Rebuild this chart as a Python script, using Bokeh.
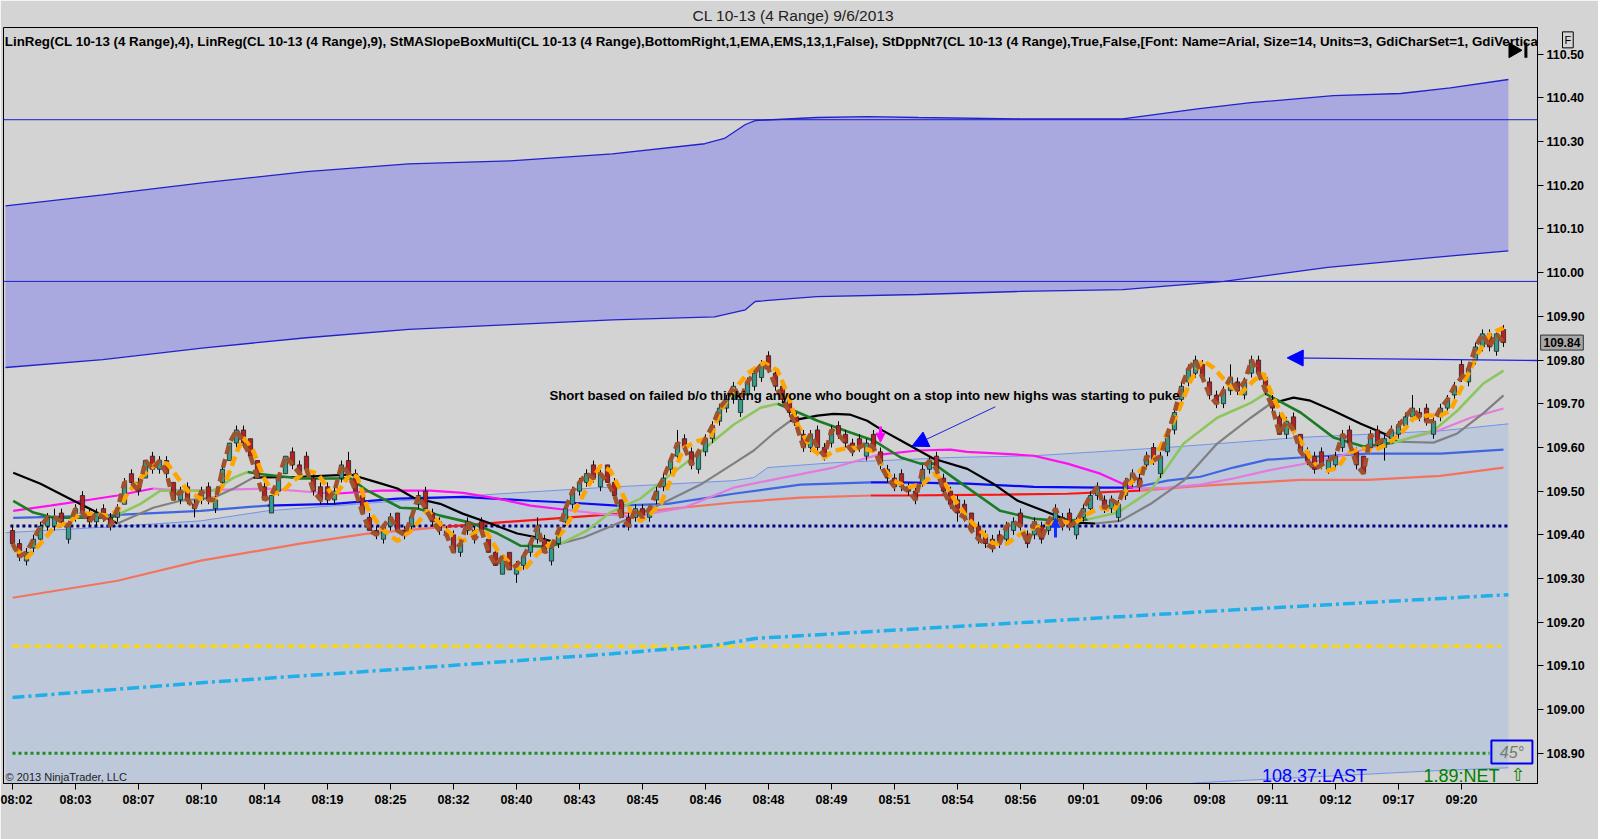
from bokeh.plotting import figure
from bokeh.models import (Range1d, FixedTicker, Span, Label, Arrow, NormalHead,
                          ColumnDataSource, PrintfTickFormatter)
from bokeh.core.properties import value
from bokeh.embed import file_html
from bokeh.resources import INLINE

FONT = "Liberation Sans"

TITLE = "CL 10-13 (4 Range)  9/6/2013"
INDICATORS = ("LinReg(CL 10-13 (4 Range),4), LinReg(CL 10-13 (4 Range),9), "
              "StMASlopeBoxMulti(CL 10-13 (4 Range),BottomRight,1,EMA,EMS,13,1,False), "
              "StDppNt7(CL 10-13 (4 Range),True,False,[Font: Name=Arial, Size=14, Units=3, "
              "GdiCharSet=1, GdiVertica")
NOTE = "Short based on failed b/o thinking anyone who bought on a stop into new highs was starting to puke"

# ---- axes -------------------------------------------------------------
TICK_BARS = [0, 9, 18, 27, 36, 45, 54, 63, 72, 81, 90, 99, 108, 117, 126, 135,
             144, 153, 162, 171, 180, 189, 198, 207]
TIME_LABELS = ["08:02", "08:03", "08:07", "08:10", "08:14", "08:19", "08:25", "08:32",
               "08:40", "08:43", "08:45", "08:46", "08:48", "08:49", "08:51", "08:54",
               "08:56", "09:01", "09:06", "09:08", "09:11", "09:12", "09:17", "09:20"]
PRICE_TICKS = [108.9, 109.0, 109.1, 109.2, 109.3, 109.4, 109.5, 109.6, 109.7, 109.8,
               109.9, 110.0, 110.1, 110.2, 110.3, 110.4, 110.5]

# ---- 4-range bars -----------------------------------------------------
OPEN = [109.41, 109.38, 109.34, 109.37, 109.39, 109.42, 109.42, 109.45, 109.39, 109.44,
        109.49, 109.45, 109.43, 109.46, 109.44, 109.44, 109.47, 109.54, 109.52, 109.53,
        109.58, 109.55, 109.57, 109.52, 109.48, 109.51, 109.47, 109.48, 109.51, 109.46,
        109.52, 109.57, 109.61, 109.64, 109.62, 109.57, 109.51, 109.45, 109.50, 109.54,
        109.59, 109.56, 109.58, 109.53, 109.51, 109.51, 109.48, 109.53, 109.57, 109.54,
        109.49, 109.44, 109.41, 109.39, 109.42, 109.45, 109.41, 109.42, 109.47, 109.50,
        109.45, 109.43, 109.41, 109.40, 109.36, 109.41, 109.41, 109.43, 109.39, 109.36,
        109.31, 109.36, 109.31, 109.33, 109.36, 109.39, 109.39, 109.34, 109.38, 109.43,
        109.47, 109.50, 109.52, 109.56, 109.51, 109.56, 109.52, 109.48, 109.44, 109.44,
        109.46, 109.44, 109.48, 109.51, 109.55, 109.58, 109.62, 109.59, 109.55, 109.59,
        109.62, 109.66, 109.69, 109.71, 109.68, 109.72, 109.74, 109.76, 109.81, 109.77,
        109.74, 109.71, 109.67, 109.63, 109.60, 109.64, 109.60, 109.61, 109.65, 109.63,
        109.61, 109.62, 109.58, 109.63, 109.59, 109.55, 109.53, 109.54, 109.51, 109.50,
        109.52, 109.55, 109.58, 109.53, 109.50, 109.48, 109.47, 109.45, 109.42, 109.40,
        109.39, 109.40, 109.39, 109.41, 109.45, 109.40, 109.40, 109.42, 109.41, 109.43,
        109.44, 109.45, 109.40, 109.44, 109.46, 109.49, 109.48, 109.46, 109.44, 109.49,
        109.52, 109.53, 109.56, 109.60, 109.54, 109.59, 109.64, 109.71, 109.75, 109.77,
        109.79, 109.75, 109.72, 109.70, 109.73, 109.75, 109.72, 109.77, 109.80, 109.76,
        109.71, 109.67, 109.63, 109.67, 109.63, 109.59, 109.58, 109.59, 109.55, 109.56,
        109.60, 109.64, 109.59, 109.58, 109.60, 109.64, 109.60, 109.62, 109.63, 109.65,
        109.67, 109.68, 109.69, 109.63, 109.67, 109.69, 109.72, 109.79, 109.75, 109.80,
        109.83, 109.86, 109.82, 109.87]
CLOSE = [109.38, 109.35, 109.36, 109.39, 109.42, 109.44, 109.44, 109.43, 109.42, 109.46,
         109.45, 109.43, 109.45, 109.44, 109.42, 109.46, 109.52, 109.52, 109.50, 109.57,
         109.55, 109.57, 109.54, 109.48, 109.50, 109.48, 109.46, 109.50, 109.48, 109.48,
         109.55, 109.61, 109.64, 109.61, 109.58, 109.53, 109.48, 109.49, 109.53, 109.58,
         109.56, 109.54, 109.55, 109.50, 109.48, 109.48, 109.50, 109.56, 109.54, 109.50,
         109.45, 109.41, 109.40, 109.42, 109.44, 109.41, 109.40, 109.44, 109.49, 109.46,
         109.43, 109.41, 109.40, 109.36, 109.38, 109.43, 109.39, 109.41, 109.36, 109.33,
         109.35, 109.32, 109.33, 109.35, 109.38, 109.42, 109.36, 109.37, 109.41, 109.46,
         109.50, 109.52, 109.54, 109.53, 109.54, 109.52, 109.49, 109.44, 109.42, 109.46,
         109.44, 109.46, 109.50, 109.53, 109.57, 109.61, 109.60, 109.56, 109.59, 109.62,
         109.65, 109.69, 109.71, 109.74, 109.71, 109.75, 109.77, 109.79, 109.78, 109.74,
         109.71, 109.68, 109.65, 109.60, 109.63, 109.60, 109.58, 109.64, 109.63, 109.61,
         109.59, 109.60, 109.61, 109.60, 109.56, 109.53, 109.51, 109.51, 109.50, 109.48,
         109.55, 109.57, 109.55, 109.50, 109.47, 109.45, 109.44, 109.41, 109.39, 109.38,
         109.37, 109.38, 109.42, 109.43, 109.42, 109.38, 109.43, 109.39, 109.43, 109.46,
         109.42, 109.42, 109.43, 109.46, 109.49, 109.51, 109.46, 109.48, 109.47, 109.52,
         109.54, 109.51, 109.58, 109.57, 109.58, 109.63, 109.68, 109.74, 109.78, 109.80,
         109.76, 109.72, 109.70, 109.73, 109.76, 109.73, 109.75, 109.80, 109.77, 109.73,
         109.69, 109.63, 109.66, 109.64, 109.59, 109.57, 109.55, 109.56, 109.57, 109.58,
         109.63, 109.61, 109.56, 109.54, 109.63, 109.61, 109.62, 109.64, 109.65, 109.67,
         109.69, 109.67, 109.66, 109.66, 109.69, 109.71, 109.74, 109.76, 109.78, 109.83,
         109.86, 109.83, 109.86, 109.84]
HIGH = [109.42, 109.39, 109.37, 109.40, 109.43, 109.45, 109.46, 109.46, 109.43, 109.47,
        109.50, 109.46, 109.46, 109.47, 109.45, 109.47, 109.53, 109.55, 109.53, 109.57,
        109.59, 109.58, 109.58, 109.52, 109.51, 109.52, 109.48, 109.51, 109.52, 109.49,
        109.56, 109.61, 109.65, 109.65, 109.62, 109.57, 109.52, 109.49, 109.54, 109.58,
        109.60, 109.57, 109.59, 109.54, 109.52, 109.52, 109.51, 109.57, 109.59, 109.55,
        109.49, 109.45, 109.42, 109.42, 109.45, 109.45, 109.42, 109.45, 109.50, 109.51,
        109.46, 109.44, 109.42, 109.41, 109.39, 109.44, 109.42, 109.44, 109.40, 109.37,
        109.35, 109.36, 109.34, 109.36, 109.39, 109.44, 109.40, 109.38, 109.42, 109.47,
        109.51, 109.53, 109.55, 109.57, 109.55, 109.56, 109.53, 109.48, 109.45, 109.47,
        109.47, 109.47, 109.51, 109.54, 109.58, 109.64, 109.63, 109.60, 109.59, 109.63,
        109.66, 109.70, 109.72, 109.75, 109.72, 109.76, 109.78, 109.80, 109.82, 109.78,
        109.75, 109.72, 109.68, 109.64, 109.64, 109.65, 109.61, 109.65, 109.66, 109.64,
        109.62, 109.63, 109.62, 109.64, 109.60, 109.56, 109.54, 109.55, 109.52, 109.51,
        109.56, 109.58, 109.59, 109.54, 109.51, 109.49, 109.48, 109.45, 109.43, 109.41,
        109.40, 109.41, 109.43, 109.44, 109.46, 109.41, 109.44, 109.43, 109.44, 109.47,
        109.45, 109.46, 109.44, 109.47, 109.50, 109.52, 109.49, 109.49, 109.48, 109.53,
        109.55, 109.54, 109.59, 109.61, 109.59, 109.64, 109.69, 109.75, 109.79, 109.81,
        109.80, 109.76, 109.73, 109.74, 109.79, 109.76, 109.76, 109.81, 109.81, 109.77,
        109.72, 109.68, 109.67, 109.68, 109.63, 109.60, 109.59, 109.60, 109.58, 109.59,
        109.64, 109.65, 109.60, 109.58, 109.64, 109.65, 109.63, 109.65, 109.66, 109.68,
        109.72, 109.69, 109.70, 109.67, 109.70, 109.72, 109.75, 109.80, 109.79, 109.84,
        109.87, 109.87, 109.87, 109.88]
LOW = [109.37, 109.34, 109.33, 109.36, 109.38, 109.41, 109.41, 109.42, 109.38, 109.43,
       109.45, 109.42, 109.42, 109.43, 109.41, 109.43, 109.47, 109.51, 109.49, 109.53,
       109.54, 109.54, 109.53, 109.48, 109.47, 109.47, 109.44, 109.47, 109.47, 109.45,
       109.51, 109.57, 109.60, 109.60, 109.58, 109.53, 109.48, 109.45, 109.49, 109.54,
       109.55, 109.53, 109.54, 109.49, 109.47, 109.47, 109.47, 109.52, 109.53, 109.50,
       109.45, 109.41, 109.39, 109.38, 109.41, 109.41, 109.39, 109.41, 109.46, 109.46,
       109.42, 109.40, 109.39, 109.36, 109.35, 109.40, 109.38, 109.40, 109.36, 109.33,
       109.31, 109.32, 109.29, 109.32, 109.35, 109.38, 109.36, 109.33, 109.37, 109.42,
       109.46, 109.49, 109.51, 109.52, 109.50, 109.52, 109.49, 109.44, 109.41, 109.43,
       109.43, 109.43, 109.47, 109.50, 109.54, 109.57, 109.59, 109.55, 109.54, 109.58,
       109.61, 109.65, 109.68, 109.70, 109.67, 109.71, 109.73, 109.75, 109.77, 109.73,
       109.70, 109.67, 109.64, 109.59, 109.59, 109.59, 109.57, 109.60, 109.62, 109.60,
       109.58, 109.59, 109.57, 109.59, 109.55, 109.52, 109.50, 109.50, 109.49, 109.47,
       109.51, 109.54, 109.54, 109.49, 109.46, 109.43, 109.43, 109.41, 109.38, 109.37,
       109.36, 109.37, 109.38, 109.40, 109.41, 109.37, 109.39, 109.38, 109.40, 109.42,
       109.41, 109.41, 109.39, 109.43, 109.45, 109.48, 109.45, 109.45, 109.43, 109.48,
       109.51, 109.50, 109.55, 109.56, 109.53, 109.58, 109.63, 109.70, 109.74, 109.76,
       109.75, 109.71, 109.69, 109.69, 109.72, 109.72, 109.71, 109.76, 109.76, 109.72,
       109.68, 109.63, 109.62, 109.63, 109.59, 109.56, 109.54, 109.55, 109.54, 109.55,
       109.59, 109.60, 109.55, 109.54, 109.59, 109.60, 109.57, 109.61, 109.62, 109.64,
       109.66, 109.66, 109.65, 109.62, 109.66, 109.68, 109.71, 109.75, 109.74, 109.79,
       109.82, 109.82, 109.81, 109.83]
LAST_PRICE = 109.84

# ---- LinReg(9) (orange dashed) -----------------------------------------
ORANGE_X = [0.1, 2.1, 4.0, 5.9, 7.9, 9.7, 11.6, 13.6, 15.0, 16.4,
            18.3, 20.7, 22.1, 23.6, 25.0, 26.9, 28.7, 30.7, 32.1, 33.0,
            34.4, 35.9, 37.3, 38.7, 40.1, 42.1, 43.6, 45.0, 45.9, 47.3,
            48.3, 49.3, 50.7, 52.6, 55.0, 56.9, 59.3, 60.7, 62.6, 64.4,
            66.4, 67.9, 69.3, 71.1, 73.0, 75.0, 76.9, 78.7, 80.1, 82.1,
            84.0, 85.4, 86.9, 88.3, 89.7, 91.1, 92.6, 94.4, 95.9, 97.9,
            99.7, 101.1, 103.0, 105.0, 107.3, 109.3, 110.7, 112.1, 114.0, 115.9,
            117.3, 119.3, 121.1, 123.0, 124.4, 125.9, 127.9, 130.1, 131.6, 133.0,
            134.4, 136.4, 138.3, 140.1, 142.1, 144.0, 145.9, 147.9, 149.7, 151.6,
            153.6, 155.4, 157.3, 159.3, 161.1, 163.0, 164.4, 166.4, 168.3, 170.0,
            171.6, 173.6, 175.4, 177.3, 178.7, 180.1, 181.6, 184.0, 185.9, 187.9,
            189.3, 190.7, 192.6, 194.4, 196.4, 198.3, 200.1, 202.1, 204.0, 205.4,
            207.3, 209.3, 211.1, 213.0]
ORANGE_Y = [109.370, 109.348, 109.380, 109.416, 109.428, 109.448, 109.448, 109.444, 109.455, 109.494,
            109.531, 109.565, 109.563, 109.531, 109.501, 109.483, 109.478, 109.531, 109.592, 109.622,
            109.592, 109.531, 109.494, 109.501, 109.524, 109.547, 109.540, 109.508, 109.485, 109.517,
            109.542, 109.531, 109.462, 109.416, 109.386, 109.409, 109.455, 109.432, 109.402, 109.386,
            109.409, 109.402, 109.364, 109.334, 109.318, 109.357, 109.380, 109.409, 109.448, 109.508,
            109.558, 109.547, 109.501, 109.455, 109.432, 109.448, 109.471, 109.540, 109.599, 109.615,
            109.622, 109.684, 109.730, 109.769, 109.794, 109.776, 109.723, 109.654, 109.599, 109.576,
            109.592, 109.599, 109.599, 109.592, 109.553, 109.524, 109.508, 109.517, 109.540, 109.524,
            109.485, 109.439, 109.409, 109.380, 109.380, 109.402, 109.416, 109.425, 109.432, 109.425,
            109.448, 109.462, 109.455, 109.508, 109.547, 109.570, 109.615, 109.677, 109.753, 109.799,
            109.782, 109.746, 109.723, 109.753, 109.769, 109.714, 109.668, 109.615, 109.563, 109.547,
            109.553, 109.586, 109.599, 109.592, 109.608, 109.631, 109.666, 109.673, 109.673, 109.684,
            109.746, 109.814, 109.860, 109.874]

# ---- slope-coloured moving averages (x in bars, y in price) -------------
SLOW_X = [0.1, 4.0, 7.9, 11.6, 15.0, 20.1, 24.0, 28.7, 31.6, 34.4,
          41.1, 48.3, 52.1, 55.0, 57.3, 61.1, 64.4, 68.3, 72.1, 75.0, 78.3,
          81.6, 85.4, 90.1, 93.6, 98.3, 103.0, 105.9, 108.7, 111.1,
          115.0, 117.3, 119.7, 122.1, 124.4, 126.9, 131.6, 136.4, 140.1, 143.6, 147.3, 151.6, 154.7,
          158.3, 162.6, 167.3, 172.1, 176.9, 179.7,
          183.0, 185.4, 188.7, 192.6, 195.9, 197.9,
          203.0, 206.4, 210.1, 213.0]
SLOW_Y = [109.542, 109.517, 109.485, 109.455, 109.426, 109.462, 109.478, 109.485, 109.506, 109.531,
          109.533, 109.538, 109.520, 109.506, 109.485, 109.471, 109.448, 109.426, 109.403, 109.394, 109.380,
          109.394, 109.419, 109.451, 109.478, 109.515, 109.563, 109.593, 109.632, 109.661,
          109.673, 109.677, 109.675, 109.661, 109.638, 109.616, 109.574, 109.551, 109.517, 109.478, 109.455, 109.428, 109.426,
          109.432, 109.471, 109.524, 109.609, 109.668, 109.700,
          109.714, 109.707, 109.684, 109.654, 109.632, 109.613,
          109.611, 109.632, 109.678, 109.719]
SLOW_SEGMENTS = [(0, 4, "#000000"), (4, 9, "#808080"), (9, 20, "#000000"), (20, 29, "#808080"),
                 (29, 42, "#000000"), (42, 48, "#808080"), (48, 54, "#000000"), (54, 58, "#808080")]

FAST_X = [0.1, 3.0, 5.9, 10.1, 14.0, 15.0,
          18.3, 21.1, 25.0, 28.7, 31.6, 33.6,
          35.0, 41.1, 48.3, 50.7, 55.4, 57.9, 61.1, 65.4, 69.3, 72.6, 76.4, 78.3,
          82.1, 85.4, 89.7, 93.6, 98.3, 103.0, 106.9, 109.3,
          110.1, 115.0, 119.7, 123.0, 126.9, 129.7, 131.6, 136.4, 141.1, 145.9, 149.7, 153.6,
          157.9, 162.6, 167.3, 172.1, 176.9, 179.0,
          184.0, 188.7, 193.0, 197.3,
          203.0, 206.4, 210.1, 213.0]
FAST_Y = [109.478, 109.451, 109.439, 109.439, 109.439, 109.446,
          109.471, 109.501, 109.501, 109.501, 109.531, 109.544,
          109.540, 109.529, 109.529, 109.501, 109.462, 109.460, 109.444, 109.428, 109.403, 109.375, 109.373, 109.380,
          109.410, 109.451, 109.483, 109.533, 109.590, 109.652, 109.691, 109.700,
          109.695, 109.661, 109.634, 109.616, 109.577, 109.563, 109.563, 109.508, 109.455, 109.437, 109.432, 109.435,
          109.451, 109.501, 109.609, 109.668, 109.702, 109.723,
          109.680, 109.623, 109.602, 109.611,
          109.638, 109.684, 109.746, 109.776]
FAST_SEGMENTS = [(0, 5, "#1E7B25"), (5, 11, "#8DC65C"), (11, 23, "#1E7B25"), (23, 31, "#8DC65C"),
                 (31, 43, "#1E7B25"), (43, 49, "#8DC65C"), (49, 53, "#1E7B25"), (53, 57, "#8DC65C")]

MID_X = [0.1, 5.4, 10.1, 15.0, 20.1,
         24.4, 29.3, 36.4, 45.9,
         52.6, 59.7, 64.4, 69.3, 74.0, 78.7,
         84.0, 88.7, 95.9, 103.0, 110.1, 117.3, 123.6,
         129.3, 134.0, 136.4, 141.1, 145.9, 150.7, 155.4, 160.1,
         165.0, 169.7, 174.4, 179.3, 184.0, 188.7, 193.6, 198.3, 203.6, 208.3, 213.0]
MID_Y = [109.455, 109.467, 109.478, 109.490, 109.506,
         109.501, 109.503, 109.506, 109.494,
         109.501, 109.501, 109.496, 109.483, 109.467, 109.458,
         109.448, 109.442, 109.462, 109.508, 109.531, 109.554, 109.583,
         109.593, 109.595, 109.590, 109.586, 109.581, 109.563, 109.540, 109.506,
         109.508, 109.515, 109.529, 109.547, 109.561, 109.577, 109.597, 109.616, 109.638, 109.668, 109.689]
MID_SEGMENTS = [(0, 4, "#FF10F0"), (4, 8, "#E27BDC"), (8, 14, "#FF10F0"), (14, 21, "#E27BDC"),
                (21, 29, "#FF10F0"), (29, 40, "#E27BDC")]

BLUE_X = [0.1, 12.6, 26.9, 36.4,
          45.9, 55.0, 64.4, 74.0, 79.3, 86.4,
          93.6, 103.0, 112.6, 122.6,
          126.9, 136.4, 145.9, 155.4, 160.1,
          165.0, 169.7, 174.4, 179.3, 184.0, 193.6, 204.0, 213.0]
BLUE_Y = [109.439, 109.444, 109.455, 109.467,
          109.471, 109.483, 109.487, 109.478, 109.474, 109.467,
          109.471, 109.494, 109.515, 109.520,
          109.520, 109.517, 109.510, 109.508, 109.508,
          109.524, 109.533, 109.554, 109.572, 109.577, 109.586, 109.586, 109.595]
BLUE_SEGMENTS = [(0, 3, "#3F66E0"), (3, 9, "#0A0AF5"), (9, 13, "#3F66E0"), (13, 18, "#0A0AF5"),
                 (18, 26, "#3F66E0")]

RED_X = [0.0, 15.0, 26.9, 41.1, 50.7, 62.1,
         69.3, 78.7, 86.4,
         91.1, 103.0, 112.6, 122.6,
         126.9, 141.1, 150.7, 161.1,
         169.7, 184.0, 193.6, 204.0, 213.0]
RED_Y = [109.256, 109.295, 109.341, 109.380, 109.403, 109.419,
         109.428, 109.439, 109.448,
         109.455, 109.474, 109.485, 109.490,
         109.490, 109.492, 109.494, 109.501,
         109.512, 109.526, 109.526, 109.535, 109.554]
RED_SEGMENTS = [(0, 5, "#F4735E"), (5, 8, "#FF1414"), (8, 12, "#F4735E"), (12, 16, "#FF1414"),
                (16, 21, "#F4735E")]

# ---- envelopes ---------------------------------------------------------
UPBAND_TOP_X = [-1.0, 12.9, 27.4, 42.0, 56.6, 71.1, 85.7, 98.9, 101.7, 104.7, 106.1, 114.9,
                122.1, 129.4, 144.0, 158.6, 169.3, 176.9, 188.7, 198.3, 205.4, 213.7]
UPBAND_TOP_Y = [110.153, 110.178, 110.206, 110.231, 110.249, 110.256, 110.272, 110.295, 110.307,
                110.339, 110.348, 110.355, 110.357, 110.355, 110.352, 110.352, 110.375, 110.389,
                110.405, 110.410, 110.423, 110.442]
UPBAND_BOT_X = [-1.0, 12.9, 27.4, 42.0, 56.6, 71.1, 85.7, 100.3, 104.7, 106.1, 114.9, 129.4,
                144.0, 158.6, 173.1, 187.9, 202.4, 213.7]
UPBAND_BOT_Y = [109.783, 109.801, 109.828, 109.851, 109.870, 109.881, 109.892, 109.899, 109.915,
                109.934, 109.945, 109.950, 109.957, 109.961, 109.980, 110.012, 110.034, 110.050]
LOWBAND_TOP_X = [-1.0, 12.6, 26.9, 36.4, 55.4, 69.7, 84.0, 103.0, 105.9, 107.9, 117.3, 134.0,
                 145.9, 165.0, 184.0, 204.0, 213.7]
LOWBAND_TOP_Y = [109.405, 109.417, 109.432, 109.455, 109.478, 109.494, 109.508, 109.524, 109.531,
                 109.554, 109.565, 109.577, 109.581, 109.600, 109.623, 109.638, 109.654]
LOWBAND_BOT_X = [-1.0, 105.9, 107.9, 169.7, 203.0, 213.7]
LOWBAND_BOT_Y = [108.55, 108.70, 108.74, 108.833, 108.860, 108.867]

CYAN_X = [0.0, 27.4, 56.6, 85.7, 100.3, 106.1, 144.0, 173.1, 213.7]
CYAN_Y = [109.028, 109.062, 109.094, 109.128, 109.147, 109.163, 109.199, 109.227, 109.263]

# ---- horizontal levels -------------------------------------------------
BLUE_LEVELS = [110.35, 109.98]
NAVY_LEVEL = 109.42
YELLOW_LEVEL = 109.145
GREEN_LEVEL = 108.90
NAVY_SPAN_X = [-0.3, 213.7]
YELLOW_SPAN_X = [0.0, 212.6]
GREEN_SPAN_X = [0.0, 211.0]

# ---- annotations (bar, price) ------------------------------------------
NOTE_POS = (76.7, 109.72)
NOTE_ARROW = (140.4, 109.693, 128.5, 109.603)
H_ARROW = (217.9, 109.799, 182.1, 109.805)
PINK_ARROW = (124.0, 109.648, 124.0, 109.612)
BLUE_ARROW = (149.0, 109.394, 149.0, 109.438)

# ------------------------------------------------------------------------
p = figure(width=1598, height=839,
           x_range=Range1d(-1.286, 217.857), y_range=Range1d(108.831, 110.561),
           y_axis_location="right", toolbar_location=None, output_backend="svg",
           min_border_left=3, min_border_right=61, min_border_top=27, min_border_bottom=56,
           background_fill_color="#D3D3D3", border_fill_color="#D4D4D4",
           outline_line_color="black", outline_line_width=1)
p.grid.visible = False

p.title.text = TITLE
p.title.align = "left"
p.title.offset = 689
p.title.vertical_align = "bottom"
p.title.standoff = 7
p.title.text_font = FONT
p.title.text_font_size = "15.5px"
p.title.text_font_style = "normal"
p.title.text_color = "#222222"

for ax in (p.xaxis[0], p.yaxis[0]):
    ax.axis_line_color = "black"
    ax.major_tick_line_color = "black"
    ax.major_tick_in = 0
    ax.major_tick_out = 6
    ax.minor_tick_line_color = None
    ax.major_label_text_font = FONT
    ax.major_label_text_font_style = "bold"
    ax.major_label_text_font_size = "12.5px"
    ax.major_label_text_color = "black"
p.xaxis[0].ticker = FixedTicker(ticks=TICK_BARS)
p.xaxis[0].major_label_overrides = {b: t for b, t in zip(TICK_BARS, TIME_LABELS)}
p.xaxis[0].major_label_standoff = 3
p.yaxis[0].ticker = FixedTicker(ticks=PRICE_TICKS)
p.yaxis[0].formatter = PrintfTickFormatter(format="%.2f")
p.yaxis[0].major_label_standoff = 3

# envelopes
p.patch(LOWBAND_TOP_X + LOWBAND_BOT_X[::-1], LOWBAND_TOP_Y + LOWBAND_BOT_Y[::-1],
        fill_color="#BEC8DB", line_color=None)
p.line(LOWBAND_TOP_X, LOWBAND_TOP_Y, line_color="#7393E6", line_width=1)
p.line(LOWBAND_BOT_X, LOWBAND_BOT_Y, line_color="#7393E6", line_width=1)
p.patch(UPBAND_TOP_X + UPBAND_BOT_X[::-1], UPBAND_TOP_Y + UPBAND_BOT_Y[::-1],
        fill_color="#A9A9DF", line_color=None)
p.line(UPBAND_TOP_X, UPBAND_TOP_Y, line_color="#2222CC", line_width=1.3)
p.line(UPBAND_BOT_X, UPBAND_BOT_Y, line_color="#2222CC", line_width=1.3)

for lvl in BLUE_LEVELS:
    p.add_layout(Span(location=lvl, dimension="width", line_color="#1C1CC8", line_width=1))

p.line(NAVY_SPAN_X, [NAVY_LEVEL, NAVY_LEVEL], line_color="#000080", line_width=3, line_dash="3 3")
p.line(YELLOW_SPAN_X, [YELLOW_LEVEL, YELLOW_LEVEL], line_color="#FFD700", line_width=3, line_dash="7 4")
p.line(GREEN_SPAN_X, [GREEN_LEVEL, GREEN_LEVEL], line_color="#1E8C1E", line_width=3, line_dash="3 3")
p.line(CYAN_X, CYAN_Y, line_color="#1FB0E8", line_width=3.5, line_dash="12 4 3 4")


def draw_segments(xs, ys, segs, width):
    for a, b, color in segs:
        p.line(xs[a:b + 1], ys[a:b + 1], line_color=color, line_width=width)


draw_segments(RED_X, RED_Y, RED_SEGMENTS, 2.2)
draw_segments(BLUE_X, BLUE_Y, BLUE_SEGMENTS, 2.2)
draw_segments(MID_X, MID_Y, MID_SEGMENTS, 2.2)
draw_segments(SLOW_X, SLOW_Y, SLOW_SEGMENTS, 2.2)
draw_segments(FAST_X, FAST_Y, FAST_SEGMENTS, 2.6)

# candles
bars = list(range(len(CLOSE)))
src = ColumnDataSource(dict(
    x=bars, h=HIGH, l=LOW,
    top=[max(o, c) for o, c in zip(OPEN, CLOSE)],
    bot=[min(o, c) for o, c in zip(OPEN, CLOSE)],
    color=["#2F9E8C" if c >= o else "#B82020" for o, c in zip(OPEN, CLOSE)]))
p.segment(x0="x", y0="h", x1="x", y1="l", source=src, line_color="black", line_width=1)
p.vbar(x="x", width=0.6, top="top", bottom="bot", source=src,
       fill_color="color", line_color="#222222", line_width=0.8)

# LinReg lines
p.line(ORANGE_X, ORANGE_Y, line_color="#FFA500", line_width=4.5, line_dash="10 5")
p.line(bars, CLOSE, line_color="#A0522D", line_width=4.5, line_dash="9 5")

# indicator line and note
p.text(x=[-1.1], y=[110.529], text=[INDICATORS], text_font=value(FONT), text_font_style="bold",
       text_font_size="13.35px", text_baseline="middle", text_align="left", text_color="black")
p.text(x=[NOTE_POS[0]], y=[NOTE_POS[1]], text=[NOTE], text_font=value(FONT), text_font_style="bold",
       text_font_size="13.2px", text_baseline="middle", text_align="left", text_color="black")

p.add_layout(Arrow(end=NormalHead(size=16, fill_color="#0000FF", line_color="#0000FF"),
                   x_start=NOTE_ARROW[0], y_start=NOTE_ARROW[1], x_end=NOTE_ARROW[2], y_end=NOTE_ARROW[3],
                   line_color="#2020E0", line_width=1))
p.add_layout(Arrow(end=NormalHead(size=16, fill_color="#0000FF", line_color="#0000FF"),
                   x_start=H_ARROW[0], y_start=H_ARROW[1], x_end=H_ARROW[2], y_end=H_ARROW[3],
                   line_color="#2020E0", line_width=1.3))
p.add_layout(Arrow(end=NormalHead(size=9, fill_color="#FF00FF", line_color="#FF00FF"),
                   x_start=PINK_ARROW[0], y_start=PINK_ARROW[1], x_end=PINK_ARROW[2], y_end=PINK_ARROW[3],
                   line_color="#FF00FF", line_width=3))
p.add_layout(Arrow(end=NormalHead(size=9, fill_color="#1030FF", line_color="#1030FF"),
                   x_start=BLUE_ARROW[0], y_start=BLUE_ARROW[1], x_end=BLUE_ARROW[2], y_end=BLUE_ARROW[3],
                   line_color="#1030FF", line_width=3))

# bottom-right readouts
p.text(x=[186.0], y=[108.849], text=["108.37:LAST"], text_font=value(FONT), text_font_size="18px",
       text_align="center", text_baseline="middle", text_color="#0000FF")
p.text(x=[207.0], y=[108.849], text=["1.89:NET"], text_font=value(FONT), text_font_size="18px",
       text_align="center", text_baseline="middle", text_color="#008000")
p.text(x=[215.1], y=[108.851], text=["⇧"], text_font=value("DejaVu Sans"), text_font_size="18px",
       text_align="center", text_baseline="middle", text_color="#008000")
p.rect(x=[214.2], y=[108.903], width=5.86, height=0.0526, fill_alpha=0,
       line_color="#0000F0", line_width=2)
p.text(x=[214.2], y=[108.903], text=["45°"], text_font=value(FONT), text_font_style="italic",
       text_font_size="16px", text_align="center", text_baseline="middle", text_color="#6E7E6E")
p.text(x=[-1.0], y=[108.845], text=["© 2013 NinjaTrader, LLC"], text_font=value(FONT),
       text_font_size="11px", text_align="left", text_baseline="middle", text_color="#222222")

# "go to last bar" icon
p.scatter(x=[214.4], y=[110.509], marker="triangle", angle=-1.5708, size=15,
          fill_color="black", line_color="black")
p.segment(x0=[216.2], y0=[110.526], x1=[216.2], y1=[110.492], line_color="black", line_width=3)

# texts outside the plotting frame (placed in side panels so they are not clipped)
p.add_layout(Label(x=221.43, y=110.551, text="F", text_align="left", text_baseline="top",
                   text_font=FONT, text_font_size="11px", text_color="black",
                   border_line_color="black", padding=2), "right")
p.add_layout(Label(x=218.3, y=LAST_PRICE, text="109.84", text_align="left", text_baseline="middle",
                   text_font=FONT, text_font_size="12px", text_font_style="bold", text_color="black",
                   background_fill_color="#A8A8A8", border_line_color="#333333", padding=3), "below")

open("out.html", "w").write(file_html(p, INLINE))
